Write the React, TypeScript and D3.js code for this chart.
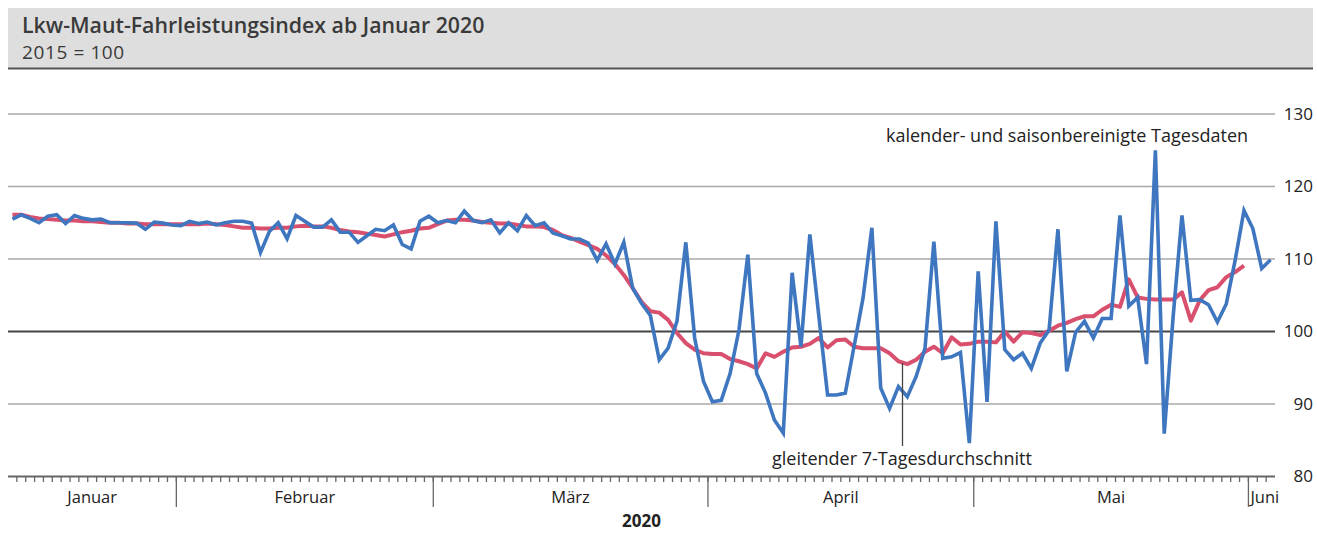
import React from "react";
import * as d3 from "d3";

const startDate = new Date(2020, 0, 13);
const endDate = new Date(2020, 5, 4);

// kalender- und saisonbereinigte Tagesdaten (13. Jan – 3. Juni 2020)
const dailyValues = [
  115.5, 116.1, 115.6, 115.0, 115.9, 116.1, 114.9, 116.0, 115.6, 115.4,
  115.5, 115.0, 115.0, 115.0, 114.95, 114.1, 115.1, 114.95, 114.7, 114.6,
  115.2, 114.9, 115.1, 114.7, 115.0, 115.2, 115.2, 114.95, 110.9, 113.8,
  115.0, 112.8, 116.0, 115.2, 114.4, 114.4, 115.4, 113.7, 113.7, 112.3,
  113.2, 114.1, 113.9, 114.7, 112.0, 111.4, 115.2, 115.9, 115.0, 115.3,
  115.0, 116.6, 115.3, 115.0, 115.4, 113.6, 115.0, 113.9, 116.0, 114.6,
  115.0, 113.6, 113.2, 112.75, 112.75, 112.2, 109.8, 112.1, 109.3, 112.3,
  106.0, 103.9, 102.2, 96.1, 97.7, 101.4, 112.3, 99.1, 93.1, 90.3,
  90.5, 94.2, 100.2, 110.6, 94.2, 91.5, 87.8, 86.0, 108.1, 97.9,
  113.4, 102.3, 91.25, 91.25, 91.5, 98.0, 104.6, 114.3, 92.2, 89.4,
  92.4, 91.0, 93.8, 97.7, 112.4, 96.3, 96.5, 97.1, 84.6, 108.3,
  90.3, 115.2, 97.5, 96.1, 97.0, 94.9, 98.4, 100.2, 114.1, 94.5,
  99.9, 101.4, 99.1, 101.8, 101.8, 116.0, 103.5, 104.7, 95.5, 125.0,
  85.9, 102.0, 116.0, 104.3, 104.4, 103.7, 101.3, 103.8, 109.8, 116.7,
  114.2, 108.7, 109.9,
];

// gleitender 7-Tagesdurchschnitt (13. Jan – 31. Mai 2020)
const movingAverage = [
  116.1, 116.1, 115.8, 115.6, 115.5, 115.4, 115.3, 115.3, 115.2, 115.2,
  115.1, 115.0, 115.0, 114.9, 114.9, 114.8, 114.8, 114.8, 114.8, 114.8,
  114.8, 114.8, 114.9, 114.8, 114.7, 114.5, 114.3, 114.3, 114.2, 114.2,
  114.3, 114.3, 114.5, 114.6, 114.5, 114.5, 114.3, 114.0, 113.8, 113.7,
  113.5, 113.3, 113.1, 113.4, 113.7, 113.9, 114.2, 114.3, 114.8, 115.3,
  115.4, 115.4, 115.3, 115.1, 115.0, 114.9, 114.9, 114.7, 114.5, 114.5,
  114.4, 114.0, 113.3, 112.9, 112.4, 111.9, 111.4, 110.5, 109.3, 107.8,
  106.0, 104.1, 102.8, 102.6, 101.6, 99.8, 98.4, 97.5, 97.0, 96.9,
  96.9, 96.2, 95.9, 95.5, 94.9, 97.0, 96.5, 97.2, 97.8, 97.9,
  98.3, 99.1, 97.8, 98.8, 98.9, 97.9, 97.7, 97.7, 97.7, 97.0,
  95.9, 95.5, 96.1, 97.2, 97.9, 97.0, 99.2, 98.2, 98.3, 98.6,
  98.6, 98.5, 100.0, 98.6, 99.9, 99.8, 99.5, 100.1, 100.8, 101.2,
  101.7, 102.1, 102.1, 103.0, 103.7, 103.4, 107.2, 104.7, 104.5, 104.4,
  104.4, 104.4, 105.4, 101.5, 104.3, 105.7, 106.1, 107.5, 108.2, 109.1,
];

const yTicks = [80, 90, 100, 110, 120, 130];
const monthNames = ["Januar", "Februar", "März", "April", "Mai", "Juni"];

const title = "Lkw-Maut-Fahrleistungsindex ab Januar 2020";
const subtitle = "2015 = 100";
const yearLabel = "2020";
const dailyLabel = "kalender- und saisonbereinigte Tagesdaten";
const avgLabel = "gleitender 7-Tagesdurchschnitt";

const W = 1317;
const H = 536;
const FONT = "'Open Sans', 'Noto Sans', sans-serif";

export default function App() {
  const x = d3.scaleTime().domain([startDate, endDate]).range([8, 1275]);
  const y = d3.scaleLinear().domain([80, 130]).range([476.5, 114]);

  const dayCenter = (i: number) =>
    x(d3.timeHour.offset(d3.timeDay.offset(startDate, i), 12));

  const line = d3
    .line<number>()
    .x((_, i) => dayCenter(i))
    .y((v) => y(v));

  const dayTicks = d3.timeDay.range(d3.timeDay.offset(startDate, 1), endDate);
  const monthStarts = d3.timeMonth.range(
    d3.timeMonth.ceil(startDate),
    endDate
  );
  const monthSegments = d3.timeMonth
    .range(d3.timeMonth.floor(startDate), endDate)
    .map((m) => {
      const s = m < startDate ? startDate : m;
      const nx = d3.timeMonth.offset(m, 1);
      const e = nx > endDate ? endDate : nx;
      return { name: monthNames[m.getMonth()], cx: (x(s) + x(e)) / 2 };
    });

  const annX = 902.5;

  return (
    <svg
      width={W}
      height={H}
      style={{ position: "absolute", left: 0, top: 0, display: "block" }}
      fontFamily={FONT}
    >
      <rect x={0} y={0} width={W} height={H} fill="#ffffff" />
      {/* header */}
      <rect x={8} y={8} width={1305} height={60} fill="#dedede" />
      <line x1={8} x2={1313} y1={68.5} y2={68.5} stroke="#555" strokeWidth={2} />
      <text x={22} y={33} fontSize={21.3} fontWeight={600} fill="#3a3a3a">
        {title}
      </text>
      <text x={22} y={59} fontSize={19} fill="#3a3a3a" letterSpacing={0.6}>
        {subtitle}
      </text>

      {/* gridlines */}
      {yTicks.map((t) => (
        <g key={t}>
          {t !== 80 && (
            <line
              x1={8}
              x2={1275}
              y1={y(t)}
              y2={y(t)}
              stroke={t === 100 ? "#444" : "#a8a8a8"}
              strokeWidth={t === 100 ? 2 : 1.5}
            />
          )}
          <text
            x={1313}
            y={y(t)}
            dy="0.35em"
            textAnchor="end"
            fontSize={17}
            fill="#222"
          >
            {t}
          </text>
        </g>
      ))}

      {/* x axis */}
      <line x1={8} x2={1275} y1={476.5} y2={476.5} stroke="#666" strokeWidth={2} />
      {dayTicks.map((d, i) => (
        <line
          key={i}
          x1={x(d)}
          x2={x(d)}
          y1={477}
          y2={482}
          stroke="#666"
          strokeWidth={1.3}
        />
      ))}
      {monthStarts.map((d, i) => (
        <line
          key={"m" + i}
          x1={x(d)}
          x2={x(d)}
          y1={477}
          y2={507}
          stroke="#666"
          strokeWidth={1.3}
        />
      ))}
      {monthSegments.map((m) => (
        <text
          key={m.name}
          x={m.name === "Juni" ? x(monthStarts[monthStarts.length - 1]) + 2 : m.cx}
          y={503}
          textAnchor={m.name === "Juni" ? "start" : "middle"}
          fontSize={16.5}
          fill="#222"
        >
          {m.name}
        </text>
      ))}
      <text
        x={(x(startDate) + x(endDate)) / 2}
        y={527}
        textAnchor="middle"
        fontSize={17}
        fontWeight={700}
        fill="#222"
      >
        {yearLabel}
      </text>

      {/* series */}
      <path
        d={line(movingAverage) || ""}
        fill="none"
        stroke="#d9506e"
        strokeWidth={4}
        strokeLinejoin="round"
      />
      <path
        d={line(dailyValues) || ""}
        fill="none"
        stroke="#3f76c0"
        strokeWidth={3.6}
        strokeLinejoin="miter"
      />

      {/* annotations */}
      <line
        x1={annX}
        x2={annX}
        y1={363}
        y2={446}
        stroke="#444"
        strokeWidth={1.3}
      />
      <text x={772} y={465} fontSize={18} fill="#222">
        {avgLabel}
      </text>
      <text x={886} y={142} fontSize={18} fill="#222">
        {dailyLabel}
      </text>
    </svg>
  );
}
